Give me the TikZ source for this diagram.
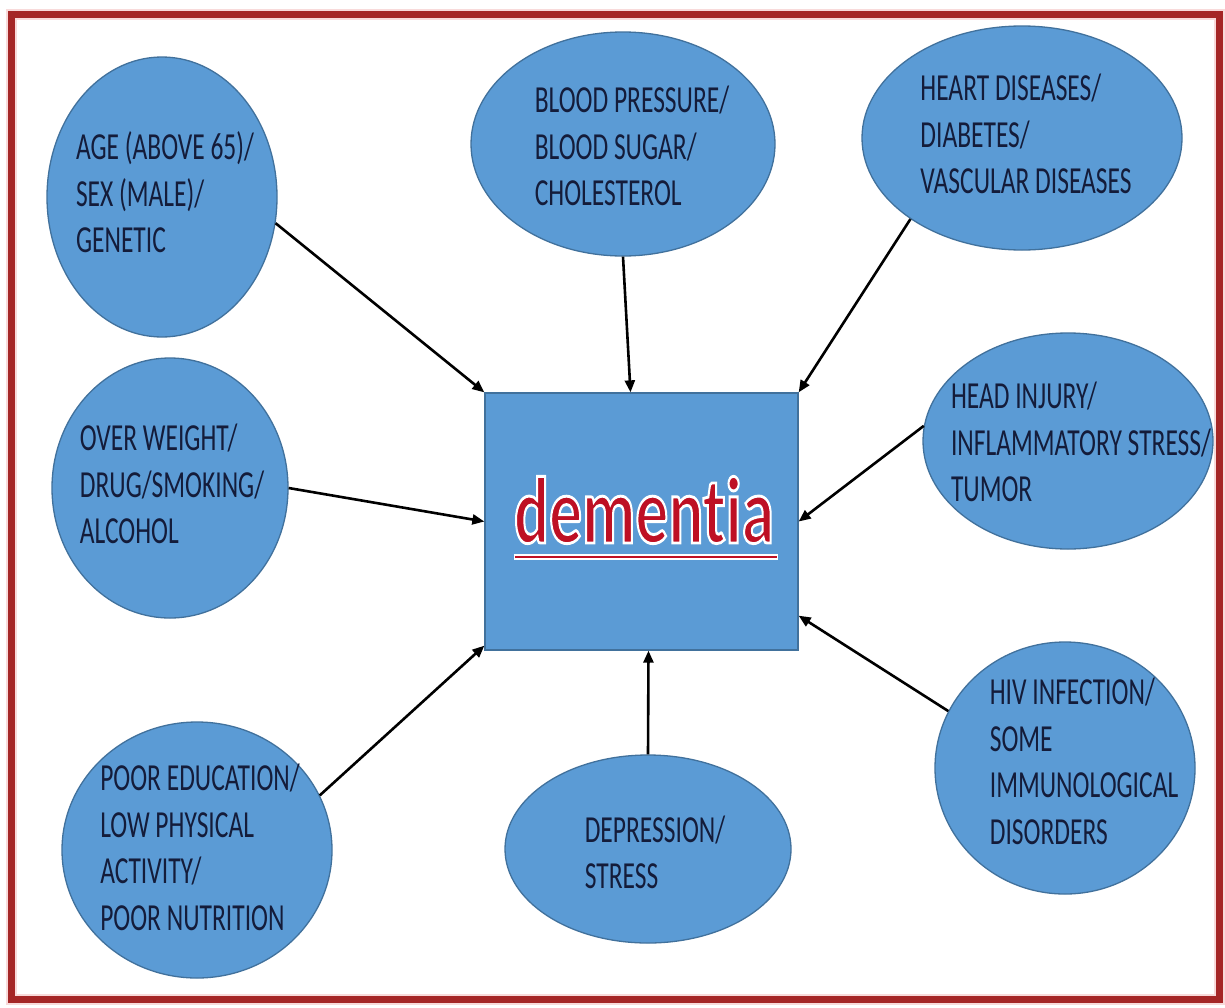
\documentclass[tikz,border=0pt]{standalone}
\usepackage{fontspec}
\usepackage{graphicx}
\usepackage{tikz}
\usetikzlibrary{shapes.geometric,arrows.meta}
\setmainfont{Carlito}
\newfontfamily\demfont{Carlito}[Ligatures={NoCommon,NoRare}]
\definecolor{boxblue}{RGB}{91,155,213}
\definecolor{edgeblue}{RGB}{65,113,156}
\definecolor{textnavy}{RGB}{20,28,58}
\definecolor{framered}{RGB}{165,38,38}
\definecolor{glowred}{RGB}{248,218,218}
\definecolor{demred}{RGB}{190,16,36}
\newcommand\tallbox[1]{\scalebox{1}[1.5]{\begin{tabular}{@{}l@{}}#1\end{tabular}}}
% red letters with a white edge
\newcommand\edged[1]{\special{pdf:literal direct 1 1 1 RG 2 w 2 Tr}#1\special{pdf:literal direct 0 Tr}}

\begin{document}
\begin{tikzpicture}[x=1pt,y=-1pt,
  cause/.style={ellipse,draw=edgeblue,fill=boxblue,line width=1.3pt,inner sep=0pt},
  causetext/.style={font=\fontsize{25.5}{31}\selectfont,text=textnavy,inner sep=0pt},
  push/.style={-{Triangle[length=12pt,width=10pt]},line width=2.6pt}]
\useasboundingbox (0,0) rectangle (1225,1007);
\fill[white] (0,0) rectangle (1225,1007);
\draw[glowred,line width=11pt] (11.5,14) rectangle (1219,999);
\draw[framered,line width=7pt] (11.5,14) rectangle (1219,999);

% centre box
\node[draw=edgeblue,fill=boxblue,line width=1.3pt,minimum width=313pt,minimum height=257pt] (dem) at (641.5,521.5) {};
\node[inner sep=0pt] (dem-t) at ([xshift=2.5pt,yshift=5pt]dem.center)
  {\scalebox{1}[1.45]{\demfont\bfseries\fontsize{65.5}{70}\selectfont\textcolor{demred}{\vtop{\hbox{\edged{dementia}}\kern9pt}}}};
\draw[white,line width=5.6pt] (dem-t.south west) -- ([xshift=4pt]dem-t.south east);
\draw[demred,line width=2.8pt] ([xshift=1pt]dem-t.south west) -- ([xshift=3pt]dem-t.south east);

% causes
\node[cause,minimum width=230pt,minimum height=280pt] (age) at (162,197) {};
\node[cause,minimum width=304pt,minimum height=224pt] (blood) at (623,144) {};
\node[cause,minimum width=320pt,minimum height=224pt] (heart) at (1022,138) {};
\node[cause,minimum width=236pt,minimum height=260pt] (over) at (170,488) {};
\node[cause,minimum width=290pt,minimum height=216pt] (head) at (1068,441) {};
\node[cause,minimum width=270pt,minimum height=256pt] (poor) at (197,850) {};
\node[cause,minimum width=286pt,minimum height=188pt] (dep) at (648,849) {};
\node[cause,minimum width=260pt,minimum height=252pt] (hiv) at (1065,768) {};

\node[causetext] (age-t) at (165,197) {\tallbox{AGE (ABOVE 65)/\\SEX (MALE)/\\GENETIC}};
\node[causetext] (blood-t) at (632,150) {\tallbox{BLOOD PRESSURE/\\BLOOD SUGAR/\\CHOLESTEROL}};
\node[causetext] (heart-t) at (1026,138) {\tallbox{HEART DISEASES/\\DIABETES/\\VASCULAR DISEASES}};
\node[causetext] (over-t) at (172,488) {\tallbox{OVER WEIGHT/\\DRUG/SMOKING/\\ALCOHOL}};
\node[causetext] (head-t) at (1081,446) {\tallbox{HEAD INJURY/\\INFLAMMATORY STRESS/\\TUMOR}};
\node[causetext] (poor-t) at (200,851) {\tallbox{POOR EDUCATION/\\LOW PHYSICAL\\ACTIVITY/\\POOR NUTRITION}};
\node[causetext] (dep-t) at (655,856) {\tallbox{DEPRESSION/\\STRESS}};
\node[causetext] (hiv-t) at (1084,765) {\tallbox{HIV INFECTION/\\SOME\\IMMUNOLOGICAL\\DISORDERS}};

% arrows into the box
\draw[push] (age.-13) -- (dem.north west);
\draw[push] (blood.south) -- ([xshift=-11pt]dem.north);
\draw[push] (heart.216) -- (dem.north east);
\draw[push] (over.east) -- (dem.west);
\draw[push] (head.174) -- (dem.east);
\draw[push] (poor.24) -- ([yshift=5pt]dem.south west);
\draw[push] (dep.north) -- ([xshift=7pt]dem.south);
\draw[push] (hiv.154) -- ([yshift=35pt]dem.south east);
\end{tikzpicture}
\end{document}
